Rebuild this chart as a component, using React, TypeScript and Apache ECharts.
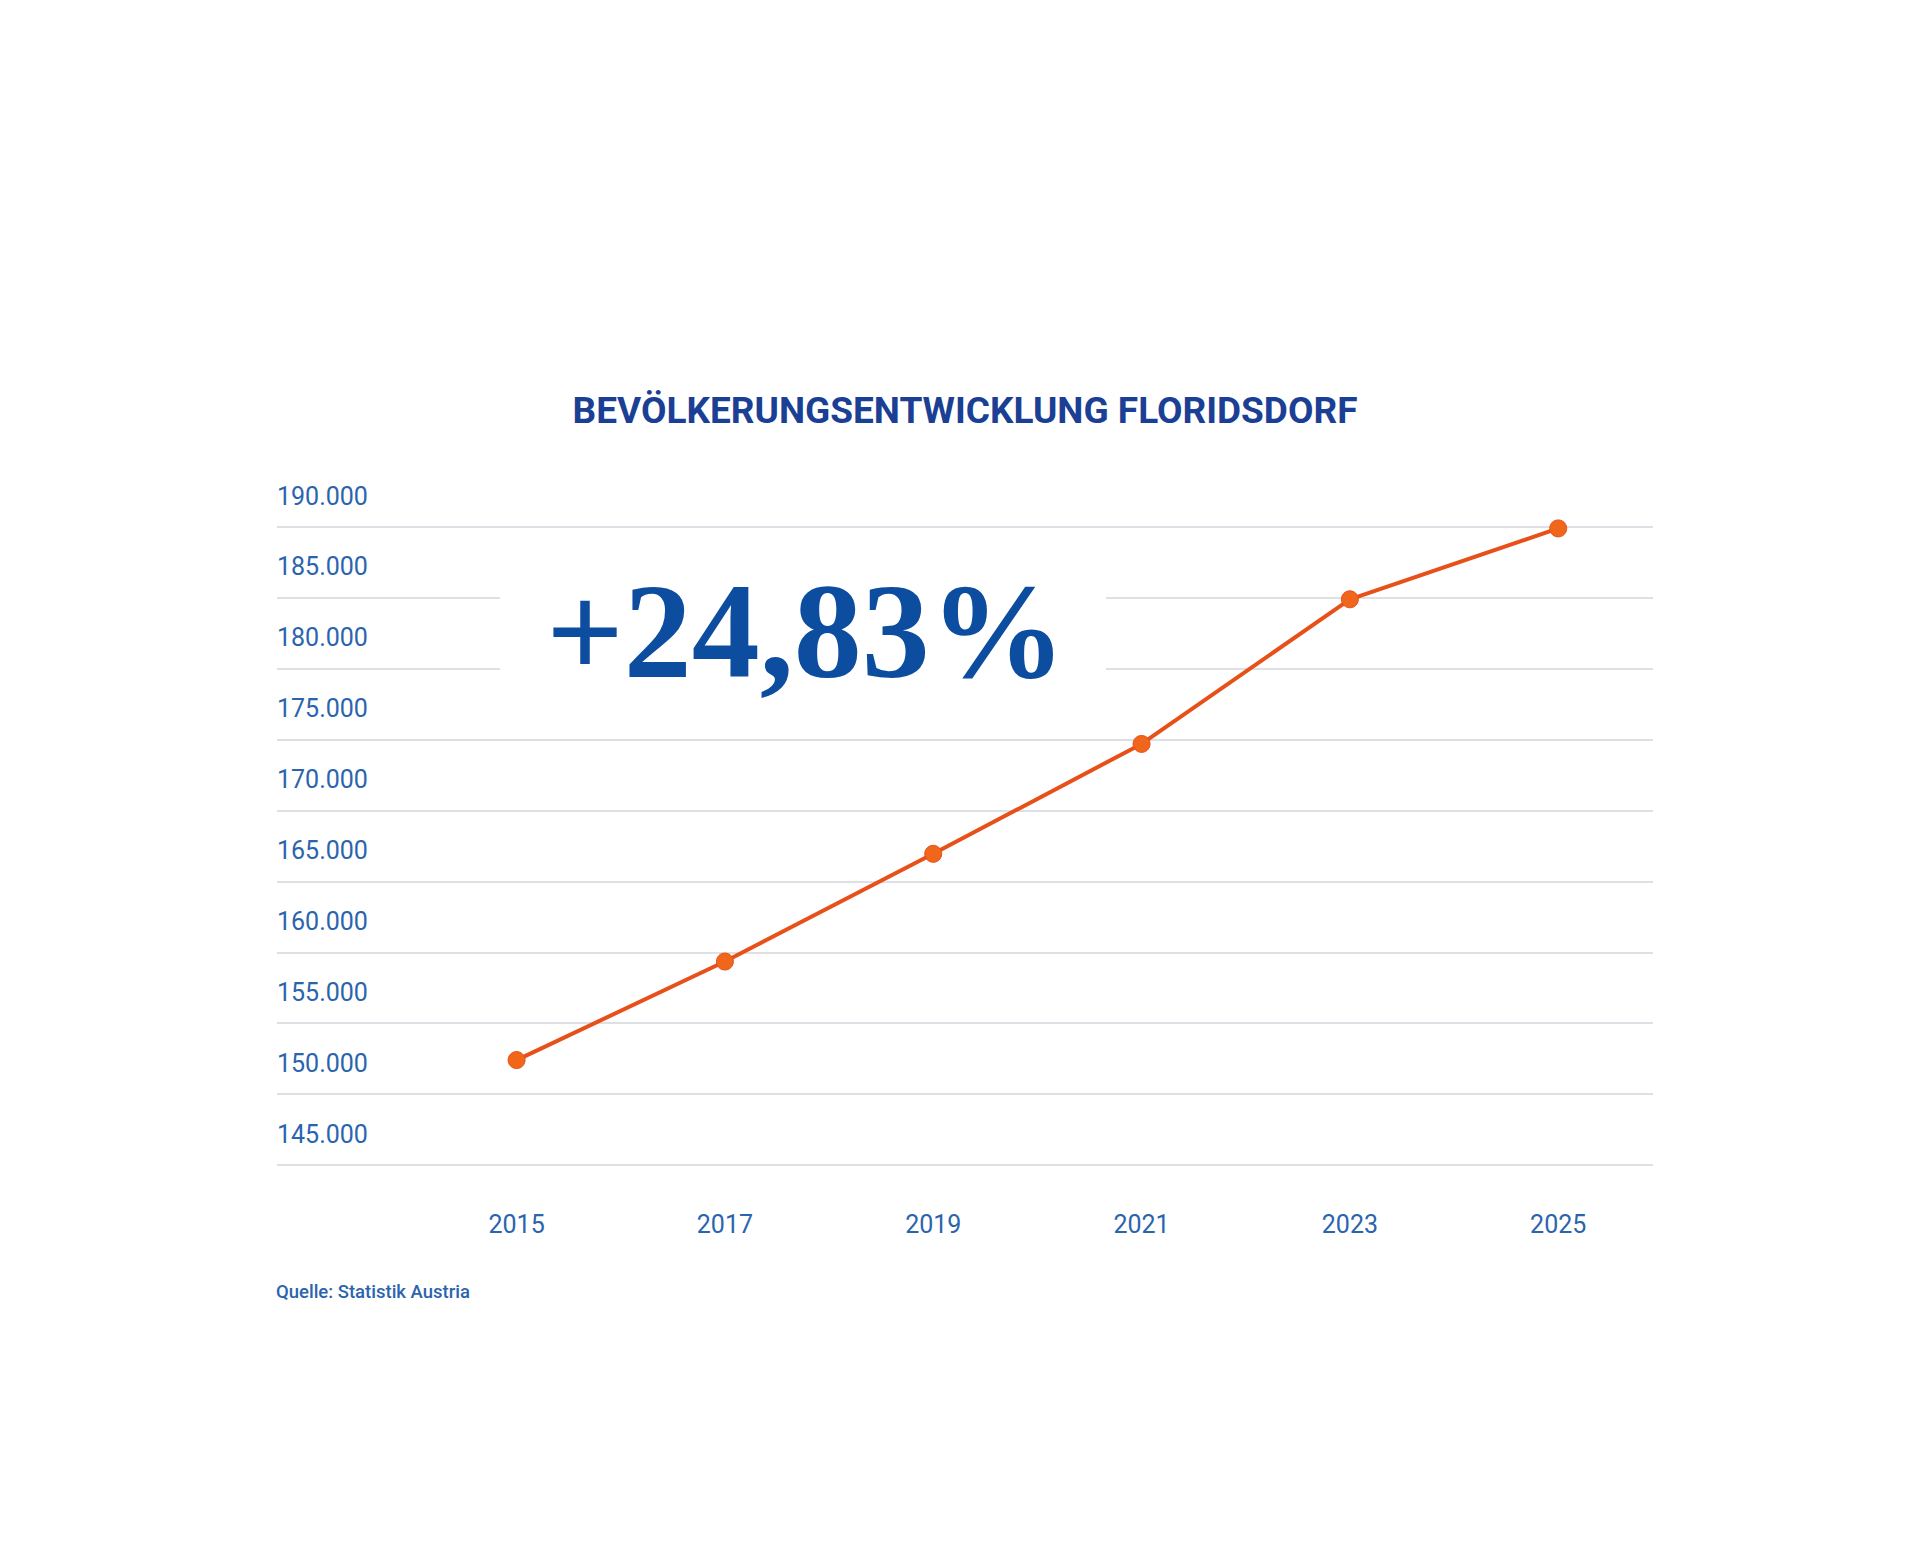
import React, { useEffect, useRef } from "react";
import * as echarts from "echarts";

const years = [2015, 2017, 2019, 2021, 2023, 2025];
const population = [152400, 159350, 166950, 174700, 184900, 189900];
const yTicks = { min: 145000, max: 190000, step: 5000 };
const titleText = "BEVÖLKERUNGSENTWICKLUNG FLORIDSDORF";
const highlightText = "+24,83%";
const sourceText = "Quelle: Statistik Austria";

const fmt = (v: number) => {
  const s = String(Math.round(v));
  return s.replace(/\B(?=(\d{3})+(?!\d))/g, ".");
};

export default function App() {
  const ref = useRef<HTMLDivElement>(null);
  useEffect(() => {
    if (!ref.current) return;
    const chart = echarts.init(ref.current, null, { renderer: "svg" });
    const labelBlue = "#2b64ae";
    const labelShift = 31;
    chart.setOption({
      animation: false,
      backgroundColor: "#ffffff",
      title: {
        text: titleText,
        left: 960,
        top: 387,
        textAlign: "center",
        textStyle: {
          fontFamily: "Roboto",
          fontWeight: "bold",
          fontSize: 37,
          color: "#1b3f94",
        },
      },
      grid: [
        { left: 277, right: 267, top: 527, bottom: 388, containLabel: false },
        {
          left: 277,
          right: 267,
          top: 527 - labelShift,
          bottom: 388 + labelShift,
          containLabel: false,
        },
      ],
      xAxis: [
        {
          type: "value",
          gridIndex: 0,
          min: 2012.7,
          max: 2025.91,
          axisLine: { show: false },
          axisTick: { show: false },
          splitLine: { show: false },
          axisLabel: {
            customValues: years,
            formatter: (v: number) => String(v),
            color: labelBlue,
            fontFamily: "Roboto",
            fontSize: 25,
            margin: 47,
          },
        },
        {
          type: "value",
          gridIndex: 1,
          min: 2012.7,
          max: 2025.91,
          show: false,
        },
      ],
      yAxis: [
        {
          type: "value",
          gridIndex: 0,
          min: yTicks.min,
          max: yTicks.max,
          interval: yTicks.step,
          axisLine: { show: false },
          axisTick: { show: false },
          axisLabel: { show: false },
          splitLine: { show: true, lineStyle: { color: "#dfe0e5", width: 2 } },
        },
        {
          type: "value",
          gridIndex: 1,
          min: yTicks.min,
          max: yTicks.max,
          interval: yTicks.step,
          axisLine: { show: false },
          axisTick: { show: false },
          splitLine: { show: false },
          axisLabel: {
            inside: true,
            margin: 0,
            align: "left",
            verticalAlign: "middle",
            color: labelBlue,
            fontFamily: "Roboto",
            fontSize: 25,
            formatter: (v: number) => fmt(v),
          },
        },
      ],
      graphic: [
        {
          type: "rect",
          z: 5,
          shape: { x: 500, y: 545, width: 606, height: 150 },
          style: { fill: "#ffffff" },
        },
        {
          type: "text",
          z: 6,
          x: 806,
          y: 631,
          style: {
            text: highlightText,
            fontFamily: "Liberation Serif",
            fontWeight: "bold",
            fontSize: 136,
            fill: "#0d4d9f",
            align: "center",
            verticalAlign: "middle",
          },
        },
        {
          type: "text",
          z: 6,
          x: 276,
          y: 1292,
          style: {
            text: sourceText,
            fontFamily: "Roboto",
            fontWeight: 500,
            fontSize: 18.5,
            fill: labelBlue,
            align: "left",
            verticalAlign: "middle",
          },
        },
      ],
      series: [
        {
          type: "line",
          xAxisIndex: 0,
          yAxisIndex: 0,
          data: years.map((y, i) => [y, population[i]]),
          symbol: "circle",
          symbolSize: 17,
          z: 10,
          lineStyle: { color: "#e8501a", width: 4 },
          itemStyle: { color: "#f0661a", borderColor: "#e8501a", borderWidth: 1 },
        },
      ],
    });
    return () => chart.dispose();
  }, []);
  return (
    <div
      ref={ref}
      style={{ position: "fixed", left: 0, top: 0, width: 1920, height: 1553 }}
    />
  );
}
